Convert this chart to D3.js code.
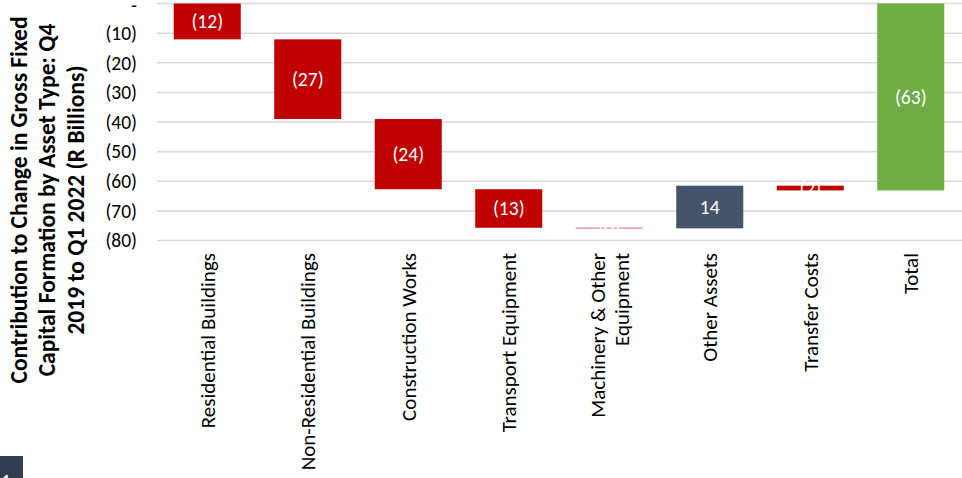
<!DOCTYPE html>
<html>
<head>
<meta charset="utf-8">
<script src="https://cdn.jsdelivr.net/npm/d3@7"></script>
<style>
  body { margin: 0; background: #fff; }
  svg { display: block; font-family: Calibri, Carlito, Lato, "Open Sans", sans-serif; }
</style>
</head>
<body>
<svg id="chart" width="962" height="478"></svg>
<script>
// Data (R billions).
var categories = ['Residential Buildings', 'Non-Residential Buildings', 'Construction Works',
  'Transport Equipment', 'Machinery & Other Equipment', 'Other Assets', 'Transfer Costs', 'Total'];
var categoryLines = [['Residential Buildings'], ['Non-Residential Buildings'], ['Construction Works'],
  ['Transport Equipment'], ['Machinery & Other', 'Equipment'], ['Other Assets'], ['Transfer Costs'], ['Total']];
var values = [-12.1, -26.9, -23.7, -13.0, -0.2, 14.4, -1.6, -63.1];
var isTotal = [false, false, false, false, false, false, false, true];
var yTicks = [0, -10, -20, -30, -40, -50, -60, -70, -80];
var titleLines = ['Contribution to Change in Gross Fixed',
  'Capital Formation by Asset Type: Q4',
  '2019 to Q1 2022 (R Billions)'];

var RED = '#C00000';
var BLUE = '#44546A';
var GREEN = '#70AD47';

var svg = d3.select('#chart');

var x = d3.scaleBand().domain(categories).range([157, 961]).paddingInner(0.333).paddingOuter(0.1665);
var y = d3.scaleLinear().domain([0, -80]).range([3.5, 240.5]);

// Build waterfall steps.
var running = 0;
var steps = categories.map(function(c, i) {
  var v = values[i];
  var start, end;
  if (isTotal[i]) { start = 0; end = v; }
  else { start = running; end = running + v; running = end; }
  return { cat: c, v: v, start: start, end: end, total: isTotal[i] };
});

var fmt = function(v) {
  var r = Math.round(Math.abs(v));
  return v < 0 ? '(' + r + ')' : String(r);
};

// Grid lines.
svg.append('g').selectAll('line').data(yTicks).enter().append('line')
  .attr('x1', 157).attr('x2', 962)
  .attr('y1', function(d) { return y(d); }).attr('y2', function(d) { return y(d); })
  .attr('stroke', '#D9D9D9').attr('stroke-width', 1.5);

// Y axis labels.
svg.append('g').selectAll('text').data(yTicks).enter().append('text')
  .attr('x', 137).attr('y', function(d) { return d === 0 ? y(d) + 2 : y(d); })
  .attr('dy', '0.35em').attr('text-anchor', 'end')
  .attr('font-size', 19.5).attr('fill', '#000')
  .text(function(d) { return d === 0 ? '-' : '(' + Math.abs(d) + ')'; });

// Bars.
svg.append('g').selectAll('rect').data(steps).enter().append('rect')
  .attr('x', function(d) { return x(d.cat); })
  .attr('width', x.bandwidth())
  .attr('y', function(d) { return y(Math.max(d.start, d.end)); })
  .attr('height', function(d) { return Math.abs(y(d.end) - y(d.start)); })
  .attr('fill', function(d) { return d.total ? GREEN : (d.v < 0 ? RED : BLUE); });

// Value labels.
svg.append('g').selectAll('text').data(steps).enter().append('text')
  .attr('x', function(d) { return x(d.cat) + x.bandwidth() / 2; })
  .attr('y', function(d) { return (y(d.start) + y(d.end)) / 2; })
  .attr('dy', '0.35em').attr('text-anchor', 'middle')
  .attr('font-size', 19.5).attr('fill', '#fff')
  .text(function(d) { return fmt(d.v); });

// Category labels (rotated).
var catG = svg.append('g').selectAll('g').data(categoryLines).enter().append('g')
  .attr('transform', function(d, i) {
    return 'translate(' + (x(categories[i]) + x.bandwidth() / 2) + ',253) rotate(-90)';
  });
catG.selectAll('text').data(function(d) { return d; }).enter().append('text')
  .attr('x', 0)
  .attr('y', function(d, j, nodes) { return (j - (nodes.length - 1) / 2) * 24; })
  .attr('dy', '0.35em').attr('text-anchor', 'end')
  .attr('font-size', 21).attr('fill', '#000')
  .text(function(d) { return d; });

// Y axis title.
var title = svg.append('g').attr('transform', 'translate(47,200) rotate(-90)');
title.selectAll('text').data(titleLines).enter().append('text')
  .attr('x', 0).attr('y', function(d, i) { return (i - 1) * 28.5; })
  .attr('dy', '0.35em').attr('text-anchor', 'middle')
  .attr('font-size', 23.5).attr('font-weight', 'bold').attr('fill', '#000')
  .text(function(d) { return d; });

// Cropped page marker in bottom-left corner.
svg.append('rect').attr('x', 0).attr('y', 456).attr('width', 23).attr('height', 22).attr('fill', '#323E4F');
svg.append('text').attr('x', 2).attr('y', 486).attr('font-size', 16).attr('font-weight', 'bold')
  .attr('fill', '#fff').text('1');
</script>
</body>
</html>
